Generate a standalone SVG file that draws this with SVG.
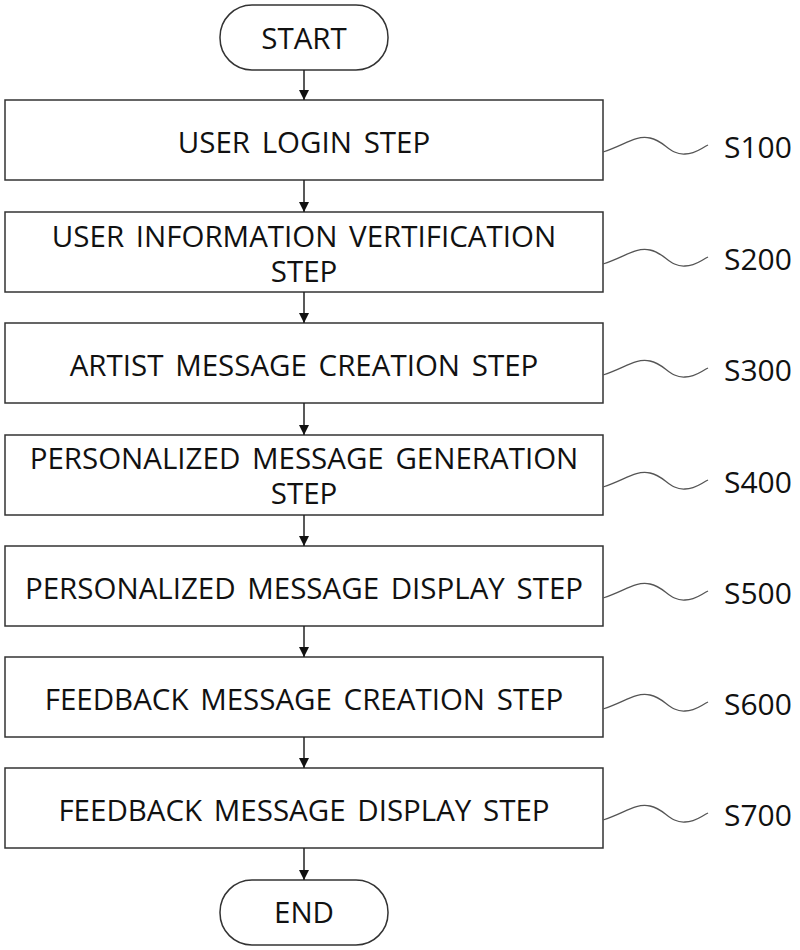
<svg xmlns="http://www.w3.org/2000/svg" width="800" height="950" viewBox="0 0 800 950">
<defs>
<style>
.b{fill:#fff;stroke:#333;stroke-width:1.5}
.t{font-family:"Open Sans","Noto Sans",sans-serif;font-size:29.5px;fill:#111;text-anchor:middle;word-spacing:4px}
.l{font-family:"Open Sans","Noto Sans",sans-serif;font-size:30px;fill:#111}
.c{stroke:#222;stroke-width:1.5;fill:none}
.w{stroke:#555;stroke-width:1.3;fill:none}
</style>
<marker id="a" markerWidth="10" markerHeight="10" refX="10" refY="5" orient="auto" markerUnits="userSpaceOnUse"><path d="M0,0 L10,5 L0,10 Z" fill="#111"/></marker>
</defs>
<g id="start"><rect class="b" x="220" y="5" width="168" height="65" rx="32"/><text class="t" x="304" y="49">START</text></g>
<g id="s100"><rect class="b" x="5" y="100" width="598" height="80"/><text class="t" x="304" y="153">USER LOGIN STEP</text><path class="w" d="M603,152 C625,145 635,135 650,138 C665,141 670,155 685,154 C695,154 700,149 708,145"/><text class="l" x="724" y="158">S100</text></g>
<g id="s200"><rect class="b" x="5" y="212" width="598" height="80"/><text class="t" x="304" y="247">USER INFORMATION VERTIFICATION</text><text class="t" x="304" y="282">STEP</text><path class="w" d="M603,264 C625,257 635,247 650,250 C665,253 670,267 685,266 C695,266 700,261 708,257"/><text class="l" x="724" y="270">S200</text></g>
<g id="s300"><rect class="b" x="5" y="323" width="598" height="80"/><text class="t" x="304" y="376">ARTIST MESSAGE CREATION STEP</text><path class="w" d="M603,375 C625,368 635,358 650,361 C665,364 670,378 685,377 C695,377 700,372 708,368"/><text class="l" x="724" y="381">S300</text></g>
<g id="s400"><rect class="b" x="5" y="435" width="598" height="80"/><text class="t" x="304" y="469">PERSONALIZED MESSAGE GENERATION</text><text class="t" x="304" y="504">STEP</text><path class="w" d="M603,487 C625,480 635,470 650,473 C665,476 670,490 685,489 C695,489 700,484 708,480"/><text class="l" x="724" y="493">S400</text></g>
<g id="s500"><rect class="b" x="5" y="546" width="598" height="80"/><text class="t" x="304" y="599">PERSONALIZED MESSAGE DISPLAY STEP</text><path class="w" d="M603,598 C625,591 635,581 650,584 C665,587 670,601 685,600 C695,600 700,595 708,591"/><text class="l" x="724" y="604">S500</text></g>
<g id="s600"><rect class="b" x="5" y="657" width="598" height="80"/><text class="t" x="304" y="710">FEEDBACK MESSAGE CREATION STEP</text><path class="w" d="M603,709 C625,702 635,692 650,695 C665,698 670,712 685,711 C695,711 700,706 708,702"/><text class="l" x="724" y="715">S600</text></g>
<g id="s700"><rect class="b" x="5" y="768" width="598" height="80"/><text class="t" x="304" y="821">FEEDBACK MESSAGE DISPLAY STEP</text><path class="w" d="M603,820 C625,813 635,803 650,806 C665,809 670,823 685,822 C695,822 700,817 708,813"/><text class="l" x="724" y="826">S700</text></g>
<g id="end"><rect class="b" x="220" y="880" width="168" height="65" rx="32"/><text class="t" x="304" y="923">END</text></g>
<g id="connectors">
<line class="c" x1="304" y1="70" x2="304" y2="100" marker-end="url(#a)"/>
<line class="c" x1="304" y1="180" x2="304" y2="212" marker-end="url(#a)"/>
<line class="c" x1="304" y1="292" x2="304" y2="323" marker-end="url(#a)"/>
<line class="c" x1="304" y1="403" x2="304" y2="435" marker-end="url(#a)"/>
<line class="c" x1="304" y1="515" x2="304" y2="546" marker-end="url(#a)"/>
<line class="c" x1="304" y1="626" x2="304" y2="657" marker-end="url(#a)"/>
<line class="c" x1="304" y1="737" x2="304" y2="768" marker-end="url(#a)"/>
<line class="c" x1="304" y1="848" x2="304" y2="880" marker-end="url(#a)"/>
</g>
</svg>
